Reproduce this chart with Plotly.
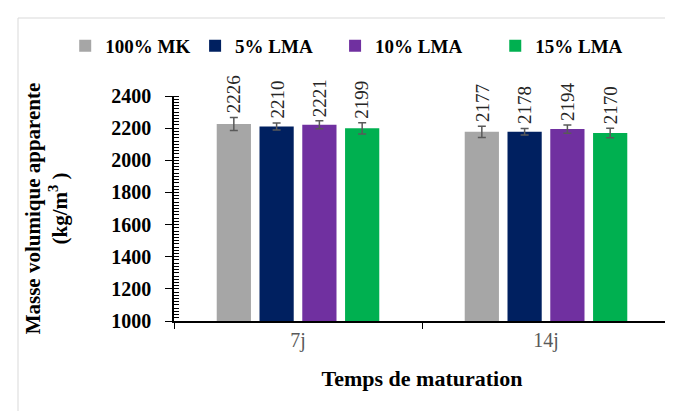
import plotly.graph_objects as go

categories = ["7j", "14j"]
series = ["100% MK", "5% LMA", "10% LMA", "15% LMA"]
values = [
    [2226, 2177],
    [2210, 2178],
    [2221, 2194],
    [2199, 2170],
]
errors = [
    [40, 35],
    [22, 20],
    [25, 25],
    [35, 30],
]
y_ticks = [1000, 1200, 1400, 1600, 1800, 2000, 2200, 2400]
colors = ["#A6A6A6", "#002060", "#7030A0", "#00B050"]

font_family = "Liberation Serif"

W, H = 673, 411
margin = dict(l=166, r=11, t=88, b=98)
bargap = 0.31
bargroupgap = 0.2

# one legend per series so the entries keep the reference spacing
legend_ids = ["legend", "legend2", "legend3", "legend4"]
legend_x = [0.085, 0.278, 0.486, 0.724]

fig = go.Figure()
for name, vals, errs, col, lg in zip(series, values, errors, colors, legend_ids):
    fig.add_trace(go.Bar(
        x=categories, y=vals, name="<b>" + name + "</b>",
        marker=dict(color=col, line=dict(width=0)),
        error_y=dict(type="data", array=errs, color="#595959",
                     thickness=1.5, width=4),
        legend=lg, showlegend=True,
    ))

# rotated value labels above the error bars
plot_w = W - margin["l"] - margin["r"]
plot_h = H - margin["t"] - margin["b"]
cat_w = plot_w / len(categories)
slot = cat_w * (1 - bargap) / len(series)
for i, (vals, errs) in enumerate(zip(values, errors)):
    shift = (i - (len(series) - 1) / 2) * slot
    for c, v, e in zip(categories, vals, errs):
        fig.add_annotation(
            x=c, y=v + e, text=str(v), textangle=-90,
            xshift=shift, yshift=2, yanchor="bottom", showarrow=False,
            font=dict(family=font_family, size=19, color="#262626"),
        )

# outer chart border
fig.add_shape(type="rect", xref="paper", yref="paper",
              x0=(10 - margin["l"]) / plot_w, x1=(W + 5 - margin["l"]) / plot_w,
              y0=-(H - 2 - (H - margin["b"])) / plot_h,
              y1=1 + (margin["t"] - 10) / plot_h,
              line=dict(color="#D9D9D9", width=1))

legend_style = dict(orientation="h", xref="container", xanchor="left",
                    yref="container", y=0.908, yanchor="middle",
                    font=dict(size=19, family=font_family),
                    itemwidth=30, traceorder="normal", visible=True)
legends = {lg: dict(x=x, **legend_style) for lg, x in zip(legend_ids, legend_x)}

fig.update_layout(
    width=W, height=H, margin=margin, showlegend=True,
    paper_bgcolor="white", plot_bgcolor="white",
    barmode="group", bargap=bargap, bargroupgap=bargroupgap,
    font=dict(family=font_family, color="black"),
    **legends,
    xaxis=dict(
        title=dict(text="<b>Temps de maturation</b>",
                   font=dict(size=22, family=font_family), standoff=20),
        tickfont=dict(size=20, color="#595959", family=font_family),
        showline=True, linecolor="black", linewidth=1.5,
        ticks="outside", tickson="boundaries", ticklen=6, tickcolor="black",
        showgrid=False, automargin=False,
    ),
    yaxis=dict(
        title=dict(text="<b>Masse volumique apparente<br>(kg/m<sup>3</sup> )</b>",
                   font=dict(size=21, family=font_family), standoff=38),
        range=[1000, 2400], tickvals=y_ticks,
        ticktext=["<b>%d</b>" % t for t in y_ticks],
        tickfont=dict(size=20, family=font_family),
        showline=True, linecolor="black", linewidth=1.5,
        ticks="outside", ticklen=7, tickcolor="black", ticklabelstandoff=10,
        minor=dict(dtick=20, ticks="inside", ticklen=5, tickcolor="black", showgrid=False),
        showgrid=False, zeroline=False, automargin=False,
    ),
)

fig.write_html("out.html")
